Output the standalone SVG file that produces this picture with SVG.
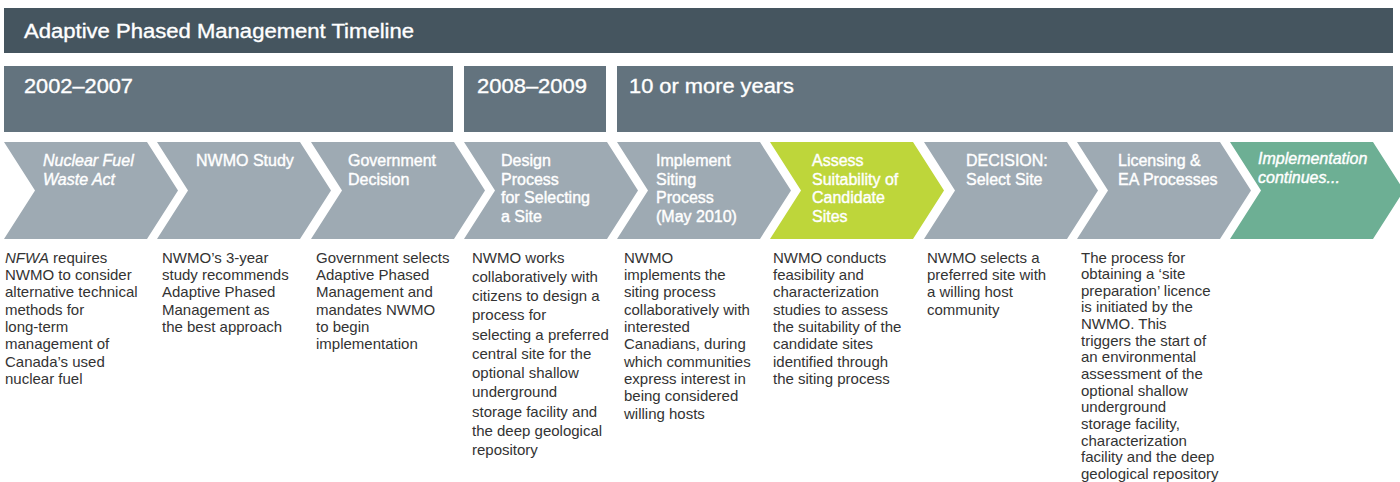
<svg xmlns="http://www.w3.org/2000/svg" width="1400" height="482" viewBox="0 0 1400 482">
<style>
  .hdr { fill: #45555f; }
  .per { fill: #63737e; }
  .chev { fill: #9eaab3; }
  .chev-g { fill: #bed63a; }
  .chev-t { fill: #6daf94; }
  .title { font-family: "Liberation Sans", Arial, sans-serif; font-size: 20px; fill: #ffffff; stroke: #ffffff; stroke-width: 0.35; }
  .ptxt { font-family: "Liberation Sans", Arial, sans-serif; font-size: 20.5px; fill: #ffffff; stroke: #ffffff; stroke-width: 0.35; }
  .lbl { font-family: "Liberation Sans", Arial, sans-serif; font-size: 16px; fill: #ffffff; stroke: #ffffff; stroke-width: 0.4; }
  .it { font-style: italic; }
  .desc { font-family: "Liberation Sans", Arial, sans-serif; font-size: 15px; fill: #333333; }
</style>
<rect width="1400" height="482" fill="#ffffff"/>
<g id="header">
  <rect class="hdr" x="4" y="8" width="1389" height="45"/>
  <text class="title" x="24" y="38" textLength="390" lengthAdjust="spacingAndGlyphs">Adaptive Phased Management Timeline</text>
</g>
<g id="periods">
  <g id="period-2002-2007">
    <rect class="per" x="4" y="66" width="449" height="66"/>
    <text class="ptxt" x="24" y="93" textLength="109" lengthAdjust="spacingAndGlyphs">2002–2007</text>
  </g>
  <g id="period-2008-2009">
    <rect class="per" x="464" y="66" width="142" height="66"/>
    <text class="ptxt" x="477" y="93" textLength="110" lengthAdjust="spacingAndGlyphs">2008–2009</text>
  </g>
  <g id="period-10-years">
    <rect class="per" x="617" y="66" width="776" height="66"/>
    <text class="ptxt" x="629" y="93" textLength="165" lengthAdjust="spacingAndGlyphs">10 or more years</text>
  </g>
</g>
<g id="connectors"></g>
<g id="steps">
  <g id="step-nfwa">
    <polygon class="chev" points="4,142 147,142 178,190.5 147,239 4,239 35,190.5"/>
    <text class="lbl it" x="43" y="166">Nuclear Fuel<tspan x="43" dy="18.5">Waste Act</tspan></text>
  </g>
  <g id="step-study">
    <polygon class="chev" points="157,142 300,142 331,190.5 300,239 157,239 188,190.5"/>
    <text class="lbl" x="196" y="166">NWMO Study</text>
  </g>
  <g id="step-govt">
    <polygon class="chev" points="311,142 454,142 485,190.5 454,239 311,239 342,190.5"/>
    <text class="lbl" x="348" y="166">Government<tspan x="348" dy="18.5">Decision</tspan></text>
  </g>
  <g id="step-design">
    <polygon class="chev" points="464,142 607,142 638,190.5 607,239 464,239 495,190.5"/>
    <text class="lbl" x="501" y="166">Design<tspan x="501" dy="18.7">Process</tspan><tspan x="501" dy="18.7">for Selecting</tspan><tspan x="501" dy="18.7">a Site</tspan></text>
  </g>
  <g id="step-implement">
    <polygon class="chev" points="617,142 760,142 791,190.5 760,239 617,239 648,190.5"/>
    <text class="lbl" x="656" y="166">Implement<tspan x="656" dy="18.7">Siting</tspan><tspan x="656" dy="18.7">Process</tspan><tspan x="656" dy="18.7">(May 2010)</tspan></text>
  </g>
  <g id="step-assess">
    <polygon class="chev-g" points="770,142 913,142 944,190.5 913,239 770,239 801,190.5"/>
    <text class="lbl" x="812" y="166">Assess<tspan x="812" dy="18.7">Suitability of</tspan><tspan x="812" dy="18.7">Candidate</tspan><tspan x="812" dy="18.7">Sites</tspan></text>
  </g>
  <g id="step-decision">
    <polygon class="chev" points="924,142 1067,142 1098,190.5 1067,239 924,239 955,190.5"/>
    <text class="lbl" x="966" y="166">DECISION:<tspan x="966" dy="18.5">Select Site</tspan></text>
  </g>
  <g id="step-licensing">
    <polygon class="chev" points="1077,142 1220,142 1251,190.5 1220,239 1077,239 1108,190.5"/>
    <text class="lbl" x="1118" y="166">Licensing &amp;<tspan x="1118" dy="18.5">EA Processes</tspan></text>
  </g>
  <g id="step-continues">
    <polygon class="chev-t" points="1230,142 1373,142 1404,190.5 1373,239 1230,239 1261,190.5"/>
    <text class="lbl it" x="1258" y="164">Implementation<tspan x="1258" dy="18.5">continues...</tspan></text>
  </g>
</g>
<g id="descriptions">
  <text class="desc" x="5" y="262.5"><tspan class="it">NFWA</tspan> requires<tspan x="5" dy="17.35">NWMO to consider</tspan><tspan x="5" dy="17.35">alternative technical</tspan><tspan x="5" dy="17.35">methods for</tspan><tspan x="5" dy="17.35">long-term</tspan><tspan x="5" dy="17.35">management of</tspan><tspan x="5" dy="17.35">Canada’s used</tspan><tspan x="5" dy="17.35">nuclear fuel</tspan></text>
  <text class="desc" x="162" y="262.5">NWMO’s 3-year<tspan x="162" dy="17.35">study recommends</tspan><tspan x="162" dy="17.35">Adaptive Phased</tspan><tspan x="162" dy="17.35">Management as</tspan><tspan x="162" dy="17.35">the best approach</tspan></text>
  <text class="desc" x="316" y="262.5">Government selects<tspan x="316" dy="17.35">Adaptive Phased</tspan><tspan x="316" dy="17.35">Management and</tspan><tspan x="316" dy="17.35">mandates NWMO</tspan><tspan x="316" dy="17.35">to begin</tspan><tspan x="316" dy="17.35">implementation</tspan></text>
  <text class="desc" x="472" y="262.5">NWMO works<tspan x="472" dy="19.25">collaboratively with</tspan><tspan x="472" dy="19.25">citizens to design a</tspan><tspan x="472" dy="19.25">process for</tspan><tspan x="472" dy="19.25">selecting a preferred</tspan><tspan x="472" dy="19.25">central site for the</tspan><tspan x="472" dy="19.25">optional shallow</tspan><tspan x="472" dy="19.25">underground</tspan><tspan x="472" dy="19.25">storage facility and</tspan><tspan x="472" dy="19.25">the deep geological</tspan><tspan x="472" dy="19.25">repository</tspan></text>
  <text class="desc" x="624" y="262.5">NWMO<tspan x="624" dy="17.35">implements the</tspan><tspan x="624" dy="17.35">siting process</tspan><tspan x="624" dy="17.35">collaboratively with</tspan><tspan x="624" dy="17.35">interested</tspan><tspan x="624" dy="17.35">Canadians, during</tspan><tspan x="624" dy="17.35">which communities</tspan><tspan x="624" dy="17.35">express interest in</tspan><tspan x="624" dy="17.35">being considered</tspan><tspan x="624" dy="17.35">willing hosts</tspan></text>
  <text class="desc" x="773" y="262.5">NWMO conducts<tspan x="773" dy="17.35">feasibility and</tspan><tspan x="773" dy="17.35">characterization</tspan><tspan x="773" dy="17.35">studies to assess</tspan><tspan x="773" dy="17.35">the suitability of the</tspan><tspan x="773" dy="17.35">candidate sites</tspan><tspan x="773" dy="17.35">identified through</tspan><tspan x="773" dy="17.35">the siting process</tspan></text>
  <text class="desc" x="927" y="262.5">NWMO selects a<tspan x="927" dy="17.35">preferred site with</tspan><tspan x="927" dy="17.35">a willing host</tspan><tspan x="927" dy="17.35">community</tspan></text>
  <text class="desc" x="1081" y="262.5">The process for<tspan x="1081" dy="16.65">obtaining a ‘site</tspan><tspan x="1081" dy="16.65">preparation’ licence</tspan><tspan x="1081" dy="16.65">is initiated by the</tspan><tspan x="1081" dy="16.65">NWMO. This</tspan><tspan x="1081" dy="16.65">triggers the start of</tspan><tspan x="1081" dy="16.65">an environmental</tspan><tspan x="1081" dy="16.65">assessment of the</tspan><tspan x="1081" dy="16.65">optional shallow</tspan><tspan x="1081" dy="16.65">underground</tspan><tspan x="1081" dy="16.65">storage facility,</tspan><tspan x="1081" dy="16.65">characterization</tspan><tspan x="1081" dy="16.65">facility and the deep</tspan><tspan x="1081" dy="16.65">geological repository</tspan></text>
</g>
</svg>
